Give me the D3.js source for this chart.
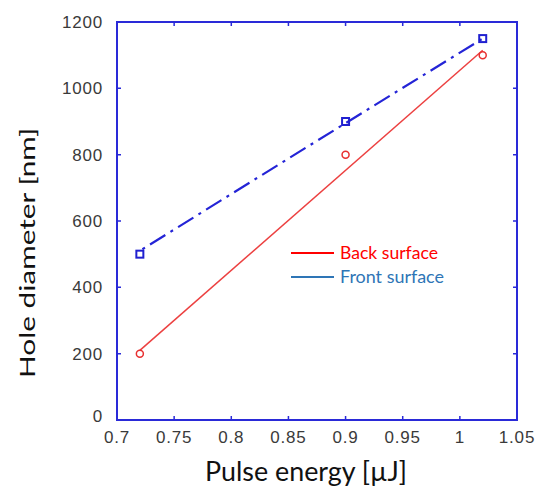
<!DOCTYPE html>
<html>
<head>
<meta charset="utf-8">
<script src="https://cdn.jsdelivr.net/npm/d3@7"></script>
<style>
  body { margin: 0; background: #fff; }
  svg { display: block; }
</style>
</head>
<body>
<div id="chart"></div>
<script>
// measured points
const energy = [0.72, 0.9, 1.02];
const backDiam = [200, 800, 1100];
const frontDiam = [500, 900, 1150];

// fitted curves drawn through the points
const backFitX = [0.72, 1.02];
const backFitY = [210, 1115];
const frontFitX = [0.72, 0.9, 1.02];
const frontFitY = [510, 895, 1150];

const xTicks = [0.7, 0.75, 0.8, 0.85, 0.9, 0.95, 1, 1.05];
const yTicks = [0, 200, 400, 600, 800, 1000, 1200];

const width = 547;
const height = 488;
const margin = { top: 22, right: 30, bottom: 68, left: 117 };

const axisColor = "#2a2ad8";
const tickColor = "#3a3a3a";

var svg = d3
  .select("#chart")
  .append("svg")
  .attr("width", width)
  .attr("height", height);

var x = d3.scaleLinear().domain([0.7, 1.05]).range([margin.left, width - margin.right]);
var y = d3.scaleLinear().domain([0, 1200]).range([height - margin.bottom, margin.top]);

// tick labels
svg
  .selectAll(".xlab")
  .data(xTicks)
  .enter()
  .append("text")
  .attr("x", (d) => x(d))
  .attr("y", y(0) + 23)
  .attr("text-anchor", "middle")
  .style("font-family", "Liberation Sans, Arial, sans-serif")
  .style("font-size", "17px")
  .style("letter-spacing", "0.8px")
  .style("fill", tickColor)
  .text((d) => d);

svg
  .selectAll(".ylab")
  .data(yTicks)
  .enter()
  .append("text")
  .attr("x", margin.left - 14)
  .attr("y", (d) => (d === 0 ? y(d) + 2 : y(d) + 6))
  .attr("text-anchor", "end")
  .style("font-family", "Liberation Sans, Arial, sans-serif")
  .style("font-size", "17px")
  .style("letter-spacing", "0.8px")
  .style("fill", tickColor)
  .text((d) => d);

// tick marks, inside the box on all four sides
var tickLen = 4;
svg
  .selectAll(".xtick")
  .data(xTicks.slice(1, -1))
  .enter()
  .append("path")
  .attr("d", (d) =>
    "M" + x(d) + "," + y(0) + "v" + -tickLen +
    "M" + x(d) + "," + y(1200) + "v" + tickLen
  )
  .attr("stroke", axisColor)
  .attr("stroke-width", 1.5);

svg
  .selectAll(".ytick")
  .data(yTicks.slice(1, -1))
  .enter()
  .append("path")
  .attr("d", (d) =>
    "M" + x(0.7) + "," + y(d) + "h" + tickLen +
    "M" + x(1.05) + "," + y(d) + "h" + -tickLen
  )
  .attr("stroke", axisColor)
  .attr("stroke-width", 1.5);

// box
svg
  .append("rect")
  .attr("x", x(0.7))
  .attr("y", y(1200))
  .attr("width", x(1.05) - x(0.7))
  .attr("height", y(0) - y(1200))
  .attr("fill", "none")
  .attr("stroke", axisColor)
  .attr("stroke-width", 2);

var line = d3
  .line()
  .x((d) => x(d[0]))
  .y((d) => y(d[1]));

// back surface fit
svg
  .append("path")
  .datum(d3.zip(backFitX, backFitY))
  .attr("d", line)
  .attr("fill", "none")
  .attr("stroke", "#ec4040")
  .attr("stroke-width", 1.5);

// front surface fit (dash-dot)
svg
  .append("path")
  .datum(d3.zip(frontFitX, frontFitY))
  .attr("d", d3.line().curve(d3.curveMonotoneX).x((d) => x(d[0])).y((d) => y(d[1])))
  .attr("fill", "none")
  .attr("stroke", "#2424d6")
  .attr("stroke-width", 2.2)
  .attr("stroke-dasharray", "18,6,3,6")
  .attr("stroke-dashoffset", -12);

// markers
svg
  .selectAll(".back")
  .data(d3.zip(energy, backDiam))
  .enter()
  .append("circle")
  .attr("cx", (d) => x(d[0]))
  .attr("cy", (d) => y(d[1]))
  .attr("r", 3.5)
  .attr("fill", "none")
  .attr("stroke", "#e83030")
  .attr("stroke-width", 1.5);

svg
  .selectAll(".front")
  .data(d3.zip(energy, frontDiam))
  .enter()
  .append("rect")
  .attr("x", (d) => x(d[0]) - 3.5)
  .attr("y", (d) => y(d[1]) - 3.5)
  .attr("width", 7)
  .attr("height", 7)
  .attr("fill", "none")
  .attr("stroke", "#2020d0")
  .attr("stroke-width", 2);

// legend
var legend = [
  { name: "Back surface", color: "#ff0000", yy: 253, len: 98 },
  { name: "Front surface", color: "#2e75b6", yy: 277, len: 104 }
];
var lg = svg
  .selectAll(".legend")
  .data(legend)
  .enter()
  .append("g");
lg.append("line")
  .attr("x1", 291)
  .attr("x2", 334)
  .attr("y1", (d) => d.yy)
  .attr("y2", (d) => d.yy)
  .attr("stroke", (d) => d.color)
  .attr("stroke-width", 2);
lg.append("text")
  .attr("x", 340)
  .attr("y", (d) => d.yy + 6)
  .attr("textLength", (d) => d.len)
  .attr("lengthAdjust", "spacingAndGlyphs")
  .style("font-family", "Lato, Carlito, sans-serif")
  .style("font-size", "18px")
  .style("fill", (d) => d.color)
  .text((d) => d.name);

// axis titles
svg
  .append("text")
  .attr("x", 306)
  .attr("y", 481)
  .attr("text-anchor", "middle")
  .attr("textLength", 202)
  .attr("lengthAdjust", "spacingAndGlyphs")
  .style("font-family", "Lato, Carlito, sans-serif")
  .style("font-size", "26px")
  .style("fill", "#111")
  .text("Pulse energy [\u00b5J]");

svg
  .append("text")
  .attr("transform", "translate(35,253) rotate(-90)")
  .attr("text-anchor", "middle")
  .attr("textLength", 250)
  .attr("lengthAdjust", "spacingAndGlyphs")
  .style("font-family", "Lato, Carlito, sans-serif")
  .style("font-size", "21px")
  .style("fill", "#111")
  .text("Hole diameter [nm]");
</script>
</body>
</html>
